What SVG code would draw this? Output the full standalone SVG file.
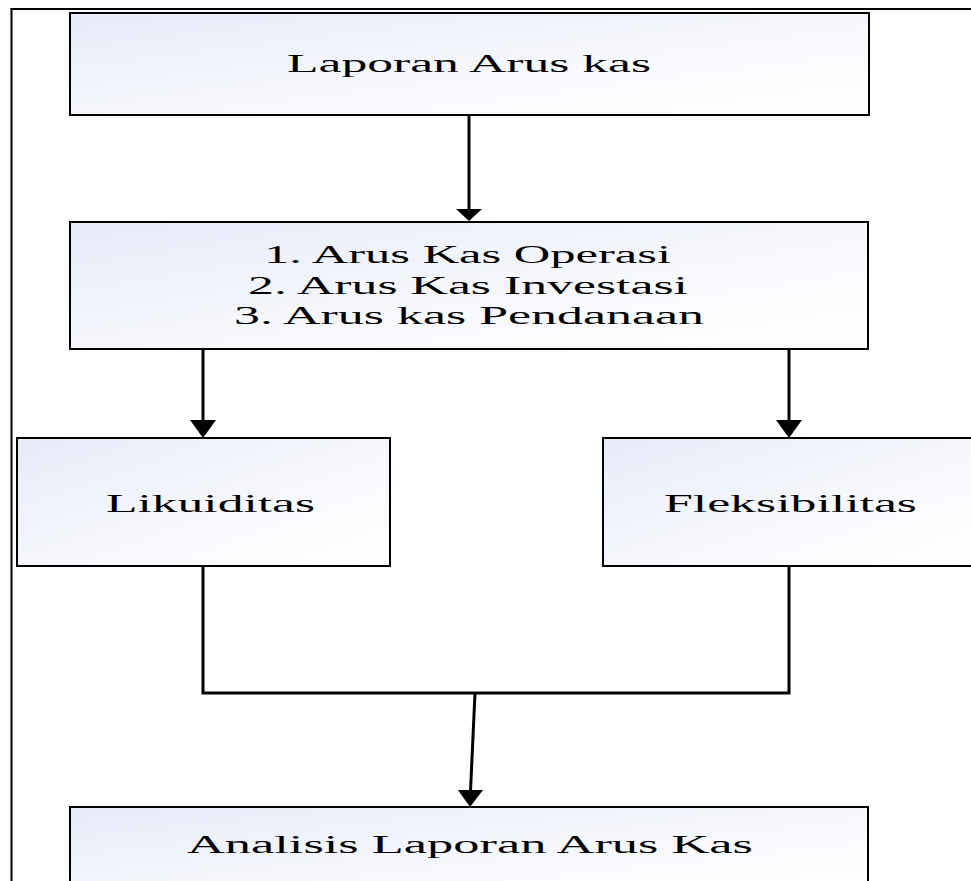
<svg xmlns="http://www.w3.org/2000/svg" width="971" height="881" viewBox="0 0 971 881">
  <defs>
    <linearGradient id="boxfill" x1="0" y1="0" x2="1" y2="1">
      <stop offset="0" stop-color="#e6ebf7"/>
      <stop offset="0.6" stop-color="#f8f9fd"/>
      <stop offset="1" stop-color="#ffffff"/>
    </linearGradient>
  </defs>
  <style>
    .box { fill: url(#boxfill); stroke: #000; stroke-width: 2; }
    .shadow { fill: none; stroke: #9a9a9a; stroke-width: 1; }
    .lbl { font-family: "Liberation Serif", "Times New Roman", serif; font-size: 25px; fill: #000; }
    .wire { fill: none; stroke: #000; stroke-width: 3; }
    .head { fill: #000; }
    .frame { fill: none; stroke: #000; stroke-width: 2; }
  </style>
  <rect width="971" height="881" fill="#fff"/>
  <g id="frame">
    <line class="frame" x1="10.5" y1="9" x2="971" y2="9"/>
    <line class="frame" x1="11.5" y1="8" x2="11.5" y2="881"/>
  </g>

  <g id="node-laporan">
    <rect class="box" x="70" y="13" width="799" height="102"/>
    <text class="lbl" x="287" y="72" textLength="364" lengthAdjust="spacingAndGlyphs">Laporan Arus kas</text>
  </g>

  <g id="node-arus">
    <rect class="box" x="70" y="222" width="798" height="127"/>
    <text class="lbl" x="264" y="263" textLength="407" lengthAdjust="spacingAndGlyphs">1. Arus Kas Operasi</text>
    <text class="lbl" x="248" y="294" textLength="440" lengthAdjust="spacingAndGlyphs">2. Arus Kas Investasi</text>
    <text class="lbl" x="234" y="324" textLength="470" lengthAdjust="spacingAndGlyphs">3. Arus kas Pendanaan</text>
  </g>

  <g id="node-likuiditas">
    <rect class="box" x="17" y="438" width="373" height="128"/>
    <text class="lbl" x="106" y="512" textLength="209" lengthAdjust="spacingAndGlyphs">Likuiditas</text>
  </g>

  <g id="node-fleksibilitas">
    <rect class="box" x="603" y="438" width="380" height="128"/>
    <text class="lbl" x="664" y="512" textLength="253" lengthAdjust="spacingAndGlyphs">Fleksibilitas</text>
  </g>

  <g id="node-analisis">
    <rect class="box" x="70" y="807" width="798" height="90"/>
    <text class="lbl" x="187" y="853" textLength="566" lengthAdjust="spacingAndGlyphs">Analisis Laporan Arus Kas</text>
  </g>

  <g id="connectors">
    <line class="wire" x1="469" y1="115" x2="469" y2="210"/>
    <polygon class="head" points="456,209 482,209 469,221"/>

    <line class="wire" x1="203" y1="349" x2="203" y2="421"/>
    <polygon class="head" points="190,420 216,420 203,438"/>

    <line class="wire" x1="789" y1="349" x2="789" y2="421"/>
    <polygon class="head" points="776,420 802,420 789,438"/>

    <polyline class="wire" points="203,566 203,693 789,693 789,566"/>
    <line class="wire" x1="475" y1="693" x2="470.5" y2="791"/>
    <polygon class="head" points="458,790 483,790 470,807"/>
  </g>
</svg>
